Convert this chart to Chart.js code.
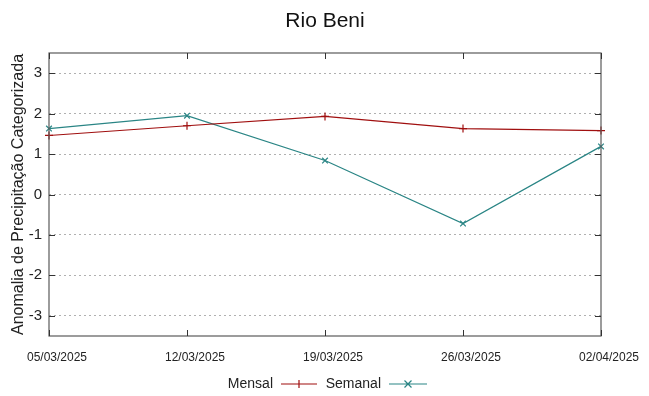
<!DOCTYPE html>
<html>
<head>
<meta charset="utf-8">
<script src="https://cdn.jsdelivr.net/npm/chart.js@4"></script>
<style>
  html, body { margin: 0; padding: 0; background: #fff; }
  #wrap { width: 649px; height: 396px; }
</style>
</head>
<body>
<div id="wrap"><canvas id="chart" width="649" height="396"></canvas></div>
<script>
// dados
const dates = ['05/03/2025', '12/03/2025', '19/03/2025', '26/03/2025', '02/04/2025'];
const mensal = [1.46, 1.70, 1.93, 1.63, 1.58];
const semanal = [1.63, 1.95, 0.84, -0.72, 1.19];
const yTicks = [-3, -2, -1, 0, 1, 2, 3];

const FONT = '"Liberation Sans", Arial, sans-serif';
const RED = '#a00f0f';
const TEAL = '#2a8585';

// título, moldura, marcas internas e legenda no estilo gnuplot
const framePlugin = {
  id: 'frame',
  afterDraw(chart) {
    const { ctx, chartArea: a, scales } = chart;
    ctx.save();

    // título centrado na figura
    ctx.font = '21px ' + FONT;
    ctx.fillStyle = '#111';
    ctx.textAlign = 'center';
    ctx.textBaseline = 'alphabetic';
    ctx.fillText('Rio Beni', 325, 27);

    ctx.strokeStyle = '#5a5a5a';
    ctx.lineWidth = 1.2;
    ctx.strokeRect(a.left, a.top, a.right - a.left, a.bottom - a.top);

    ctx.lineWidth = 1;
    ctx.strokeStyle = '#333';
    ctx.beginPath();
    yTicks.forEach(v => {
      const y = Math.round(scales.y.getPixelForValue(v)) + 0.5;
      ctx.moveTo(a.left, y); ctx.lineTo(a.left + 6, y);
      ctx.moveTo(a.right, y); ctx.lineTo(a.right - 6, y);
    });
    dates.forEach((d, i) => {
      const x = Math.round(scales.x.getPixelForValue(i)) + 0.5;
      ctx.moveTo(x, a.bottom); ctx.lineTo(x, a.bottom - 6);
      ctx.moveTo(x, a.top); ctx.lineTo(x, a.top + 6);
    });
    ctx.stroke();

    // legenda
    const ly = 384;
    ctx.font = '14px ' + FONT;
    ctx.textBaseline = 'middle';
    const items = [
      { label: 'Mensal', textEnd: 273, x0: 281, x1: 317, color: RED, mark: 'plus' },
      { label: 'Semanal', textEnd: 381, x0: 389, x1: 427, color: TEAL, mark: 'x' }
    ];
    items.forEach(it => {
      ctx.textAlign = 'right';
      ctx.fillStyle = '#222';
      ctx.fillText(it.label, it.textEnd, ly);
      ctx.strokeStyle = it.color;
      ctx.lineWidth = 1.2;
      ctx.beginPath();
      ctx.moveTo(it.x0, ly); ctx.lineTo(it.x1, ly);
      const cx = (it.x0 + it.x1) / 2;
      if (it.mark === 'plus') {
        ctx.moveTo(cx, ly - 4); ctx.lineTo(cx, ly + 4);
      } else {
        ctx.moveTo(cx - 3.5, ly - 3.5); ctx.lineTo(cx + 3.5, ly + 3.5);
        ctx.moveTo(cx + 3.5, ly - 3.5); ctx.lineTo(cx - 3.5, ly + 3.5);
      }
      ctx.stroke();
    });
    ctx.restore();
  }
};

new Chart(document.getElementById('chart'), {
  type: 'line',
  data: {
    labels: dates,
    datasets: [
      {
        label: 'Mensal', data: mensal,
        borderColor: RED, backgroundColor: RED,
        borderWidth: 1.2, pointStyle: 'cross', pointRadius: 4,
        pointBorderWidth: 1.2, tension: 0
      },
      {
        label: 'Semanal', data: semanal,
        borderColor: TEAL, backgroundColor: TEAL,
        borderWidth: 1.2, pointStyle: 'crossRot', pointRadius: 4,
        pointBorderWidth: 1.2, tension: 0
      }
    ]
  },
  options: {
    responsive: false,
    animation: false,
    layout: { padding: { left: 0, right: 48, top: 53, bottom: 30 } },
    plugins: {
      legend: { display: false },
      tooltip: { enabled: false },
      title: { display: false }
    },
    scales: {
      x: {
        type: 'category', offset: false,
        grid: { display: false, drawTicks: false },
        border: { display: false },
        ticks: {
          color: '#222', font: { family: FONT, size: 12 },
          maxRotation: 0, autoSkip: false, padding: 14, labelOffset: 8
        },
        afterFit: s => { s.height = 30; }
      },
      y: {
        min: -3.5, max: 3.5,
        afterBuildTicks: s => { s.ticks = yTicks.map(v => ({ value: v })); },
        grid: {
          color: '#b0b0b0', lineWidth: 1, drawTicks: false
        },
        border: { display: false, dash: [2, 3] },
        ticks: { color: '#222', font: { family: FONT, size: 15 }, padding: 7 },
        title: {
          display: true, text: 'Anomalia de Precipitação Categorizada',
          color: '#222', font: { family: FONT, size: 16 },
          padding: { top: 9, bottom: 0 }
        },
        afterFit: s => { s.width = 49; }
      }
    }
  },
  plugins: [framePlugin]
});
</script>
</body>
</html>
